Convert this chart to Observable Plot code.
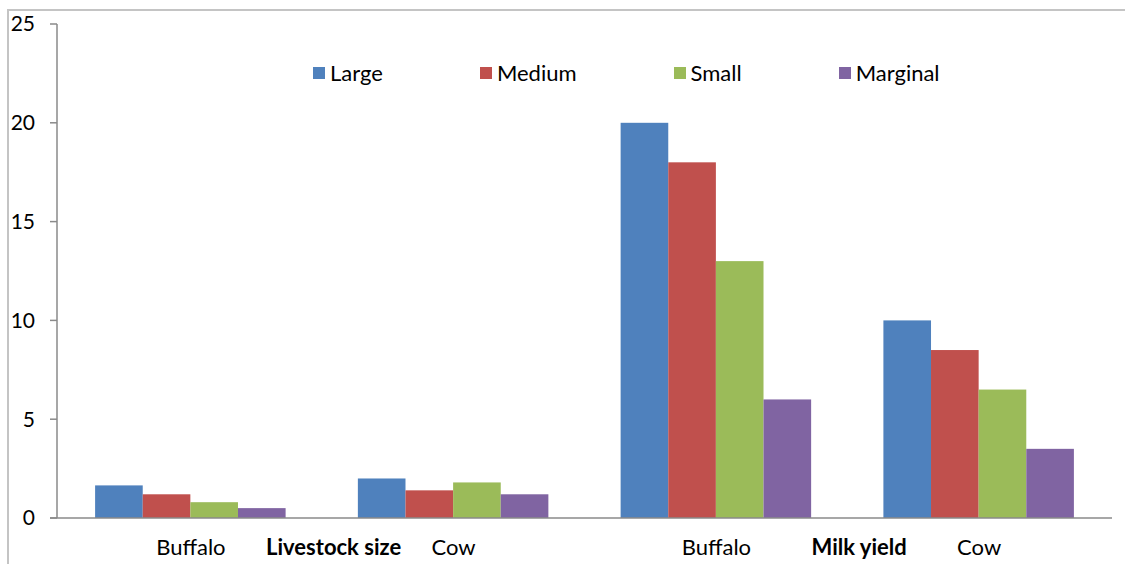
<!DOCTYPE html>
<html>
<head>
<meta charset="utf-8">
<script src="https://cdn.jsdelivr.net/npm/d3@7"></script>
<script src="https://cdn.jsdelivr.net/npm/@observablehq/plot@0.6"></script>
<style>
  html, body { margin: 0; padding: 0; background: #fff; }
  #wrap { position: relative; width: 1125px; height: 564px; overflow: hidden; font-family: Lato, "Open Sans", sans-serif; }
  #border { position: absolute; left: 7px; top: 9px; right: -5px; bottom: -5px; border-top: 2px solid #c4c4c4; border-left: 2px solid #c4c4c4; }
  #legend { position: absolute; left: 313px; top: 59px; display: flex; gap: 0; font-size: 22px; color: #000; }
  .item { display: flex; align-items: center; margin-right: 97px; }
  .sw { width: 12px; height: 12px; margin-right: 5px; }
  #chart { position: absolute; left: 0; top: 0; }
</style>
</head>
<body>
<div id="wrap">
  <div id="border"></div>
  <div id="chart"></div>
  <div id="legend"></div>
</div>
<script>
const keys = ["LS-Buffalo", "LS-Cow", "MY-Buffalo", "MY-Cow"];
const categories = ["Buffalo", "Cow", "Buffalo", "Cow"];
const groups = ["Livestock size", "Livestock size", "Milk yield", "Milk yield"];
const sizes = ["Large", "Medium", "Small", "Marginal"];
const colors = ["#4F81BD", "#C0504D", "#9BBB59", "#8064A2"];
const large = [1.65, 2.0, 20, 10];
const medium = [1.2, 1.4, 18, 8.5];
const small = [0.8, 1.8, 13, 6.5];
const marginal = [0.5, 1.2, 6, 3.5];
const yTicks = [0, 5, 10, 15, 20, 25];

const series = [large, medium, small, marginal];
const data = [];
keys.forEach((k, i) => sizes.forEach((s, j) => data.push({key: k, size: s, value: series[j][i]})));
const groupLabels = [
  {key: keys[1], group: groups[1]},
  {key: keys[3], group: groups[3]}
];

const chart = Plot.plot({
  width: 1125, height: 564,
  marginLeft: 57, marginRight: 13, marginTop: 24, marginBottom: 46,
  style: {fontFamily: "Lato, 'Open Sans', sans-serif", fontSize: "22px", color: "#000", background: "transparent", overflow: "visible"},
  fx: {domain: keys, paddingInner: 0.275, paddingOuter: 0.145, round: false, label: null, axis: null},
  x: {domain: sizes, padding: 0, round: false, axis: null},
  y: {domain: [0, 25], label: null, axis: null},
  color: {domain: sizes, range: colors},
  marks: [
    Plot.barY(data, {fx: "key", x: "size", y: "value", fill: "size"}),
    Plot.axisFx({anchor: "bottom", tickSize: 0, tickPadding: 21, fontSize: 22, label: null, tickFormat: k => categories[keys.indexOf(k)]}),
    Plot.text(groupLabels, {fx: "key", y: 0, text: "group", fontWeight: "bold", fontSize: 22, lineAnchor: "top", dy: 21, dx: -120, fill: "#000"})
  ]
});
document.getElementById("chart").appendChild(chart);

// axes lines and y ticks via the plot's own scales
const ys = chart.scale("y");
const svg = d3.select(chart);
const left = 57, right = 1125 - 13;
const y0 = ys.apply(0);
const g = svg.append("g");
g.append("line").attr("x1", left).attr("x2", left).attr("y1", ys.apply(25)).attr("y2", y0).attr("stroke", "#8a8a8a").attr("stroke-width", 1.5);
g.append("line").attr("x1", left - 7).attr("x2", right).attr("y1", y0).attr("y2", y0).attr("stroke", "#8a8a8a").attr("stroke-width", 1.5);
yTicks.forEach(t => {
  const y = ys.apply(t);
  g.append("line").attr("x1", left - 7).attr("x2", left).attr("y1", y).attr("y2", y).attr("stroke", "#8a8a8a").attr("stroke-width", 1.5);
  g.append("text").attr("x", left - 22).attr("y", y).attr("dy", "0.35em").attr("text-anchor", "end")
    .attr("font-size", 21).attr("fill", "#000").text(t);
});

const legend = document.getElementById("legend");
sizes.forEach((s, i) => {
  const it = document.createElement("div"); it.className = "item";
  const sw = document.createElement("div"); sw.className = "sw"; sw.style.background = chart.scale("color").apply(s);
  const tx = document.createElement("span"); tx.textContent = s;
  it.appendChild(sw); it.appendChild(tx); legend.appendChild(it);
});
</script>
</body>
</html>
